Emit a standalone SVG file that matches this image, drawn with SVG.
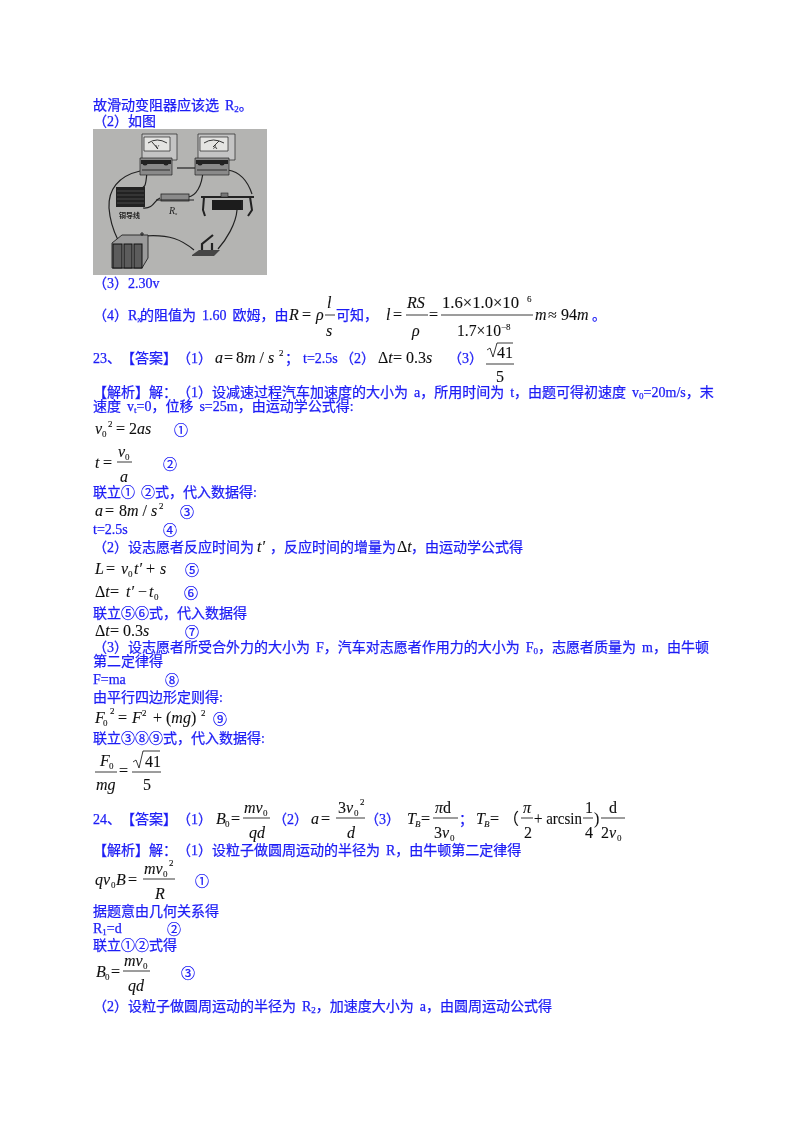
<svg xmlns="http://www.w3.org/2000/svg" width="800" height="1132" viewBox="0 0 800 1132">
<style>
text{font-family:"Liberation Serif","Noto Sans CJK SC",serif;font-size:14px;fill:#1c1cf5;stroke:#1c1cf5;stroke-width:.25;white-space:pre;text-spacing-trim:space-all;word-spacing:2.5px}
.m{fill:#111;stroke:#111;stroke-width:.1;font-size:16px;word-spacing:0}
.i{font-style:italic}
.s{font-size:9px}
.l{stroke:#222;stroke-width:.9;fill:none}
.w{stroke:#222;stroke-width:1.2;fill:none}
.d{fill:#222}
.g{fill:#8a8a8a;stroke:#222;stroke-width:.7}
.f{fill:#c4c4c4;stroke:#222;stroke-width:.7}
.p{fill:#222;stroke:none;word-spacing:0}
</style>
<defs><filter id="soft" x="0" y="0" width="100%" height="100%"><feGaussianBlur stdDeviation="0.35"/></filter></defs>
<rect width="800" height="1132" fill="#fff"/>
<g filter="url(#soft)">
<text x="93" y="110">故滑动变阻器应该选 R<tspan class="s" dy="2">2</tspan><tspan dy="-2">。</tspan></text>
<text x="93" y="126">（2）如图</text>
<g id="photo">
<rect x="93" y="129" width="174" height="146" fill="#b4b4b2"/>
<g id="wires">
<path class="w" d="M140 171C118 176 108 190 109 208C110 222 114 232 118 240"/>
<path class="w" d="M147 171C146 184 146 190 137 188"/>
<path class="w" d="M177 168L196 168"/>
<path class="w" d="M203 171C202 186 196 196 188 197"/>
<path class="w" d="M143 208C154 209 154 200 160 198"/>
<path class="w" d="M228 170C240 172 248 182 252 194"/>
<path class="w" d="M237 210C236 224 226 240 218 249"/>
<path class="w" d="M144 236C170 234 182 240 194 250"/>
</g>
<g id="voltmeter">
<path class="f" d="M142 134H177V160H142Z"/>
<path fill="#e4e4e2" stroke="#222" stroke-width=".7" d="M144 137H170V151H144Z"/>
<path class="l" d="M148 143Q157 137 167 143M152 142L158 149"/>
<path class="g" d="M140 158H172V175H140Z"/>
<path class="d" d="M141 160H171V164H141Z"/>
<circle class="d" cx="145" cy="163" r="2.5"/><circle class="d" cx="166" cy="163" r="2.5"/>
<path class="l" d="M142 170H170"/>
<text class="p" x="155" y="149" style="font-size:6px">V</text>
</g>
<g id="ammeter">
<path class="f" d="M198 134H235V160H198Z"/>
<path fill="#e4e4e2" stroke="#222" stroke-width=".7" d="M200 137H228V151H200Z"/>
<path class="l" d="M204 143Q213 137 224 143M213 147L219 141"/>
<path class="g" d="M195 158H229V175H195Z"/>
<path class="d" d="M196 160H228V164H196Z"/>
<circle class="d" cx="200" cy="163" r="2.5"/><circle class="d" cx="222" cy="163" r="2.5"/>
<path class="l" d="M197 170H227"/>
<text class="p" x="213" y="149" style="font-size:6px">A</text>
</g>
<g id="coil">
<rect x="116" y="187" width="29" height="20" fill="#222"/>
<path stroke="#777" stroke-width=".5" d="M117 191H144M117 195H144M117 199H144M117 203H144"/>
<text class="p" x="119" y="218" style="font-size:7px;font-weight:bold">铜导线</text>
</g>
<g id="resistor">
<rect x="161" y="194" width="28" height="7" fill="#8a8a8a" stroke="#222" stroke-width=".8"/>
<path class="w" d="M156 200H194"/>
<text class="p" x="169" y="214" style="font-size:10px;font-style:italic">R<tspan font-size="5" dy="1">x</tspan></text>
</g>
<g id="rheostat">
<rect x="212" y="200" width="29" height="10" fill="#1c1c1c"/>
<path stroke="#222" stroke-width="2.2" fill="none" d="M201 197H254"/>
<path stroke="#222" stroke-width="2" fill="none" d="M204 197L203 210L205 216M250 197L252 210L248 216M242 200V210"/>
<rect x="221" y="193" width="7" height="4" fill="#777" stroke="#222" stroke-width=".6"/>
</g>
<g id="battery">
<path fill="#9a9a9a" stroke="#222" stroke-width=".9" d="M112 243L122 235H148V258L142 268H112Z"/>
<rect x="113" y="244" width="9" height="24" fill="#5c5c5c" stroke="#111"/>
<rect x="124" y="244" width="8" height="24" fill="#5c5c5c" stroke="#111"/>
<rect x="134" y="244" width="8" height="24" fill="#5c5c5c" stroke="#111"/>
<path stroke="#222" d="M142 232V236M140 234H144"/>
</g>
<g id="switch">
<path fill="#444" d="M192 255L199 250H220L214 256H192Z"/>
<path stroke="#222" stroke-width="2.2" fill="none" d="M202 250V244L213 235M212 250V243"/>
</g>
</g>
<text x="93" y="288">（3）2.30v</text>

<text x="93" y="320">（4）R<tspan class="s" dy="2">x</tspan><tspan x="140" dy="-2">的阻值为 1.60 欧姆，由</tspan></text>
<text class="m i" x="289" y="320">R</text><text class="m" x="302" y="320">=</text><text class="m i" x="316" y="320">ρ</text>
<text class="m i" x="327" y="308">l</text><path class="l" d="M325 315H335"/><text class="m i" x="326" y="336">s</text>
<text x="336" y="320">可知，</text>
<text class="m i" x="386" y="320">l</text><text class="m" x="393" y="320">=</text>
<text class="m i" x="407" y="308">RS</text><path class="l" d="M406 315H428"/><text class="m i" x="412" y="336">ρ</text>
<text class="m" x="429" y="320">=</text>
<text class="m" x="442" y="308" textLength="77" lengthAdjust="spacingAndGlyphs">1.6×1.0×10</text><text class="m s" x="527" y="302">6</text>
<path class="l" d="M441 315H533"/>
<text class="m" x="457" y="336" textLength="44" lengthAdjust="spacingAndGlyphs">1.7×10</text><text class="m s" x="501" y="330">−8</text>
<text class="m i" x="535" y="320">m</text><text class="m" x="548" y="320">≈</text><text class="m" x="561" y="320">94<tspan class="i">m</tspan></text>
<text x="592" y="320">。</text>

<text x="93" y="363">23、【答案】（1）</text>
<text class="m i" x="215" y="363">a</text><text class="m" x="224" y="363">=</text><text class="m" x="236" y="363">8<tspan class="i">m</tspan> / <tspan class="i">s</tspan></text><text class="m s" x="279" y="356">2</text>
<text x="285" y="363">；</text><text x="303" y="363">t=2.5s</text><text x="340" y="363">（2）</text>
<text class="m" x="378" y="363">Δ<tspan class="i">t</tspan></text><text class="m" x="393" y="363">= 0.3<tspan class="i">s</tspan></text>
<text x="448" y="363">（3）</text>
<path class="l" d="M487 350L490 348L493 357L497 343H513"/>
<text class="m" x="497" y="358">41</text><path class="l" d="M486 364H514"/><text class="m" x="496" y="382">5</text>

<text x="93" y="397">【解析】解：（1）设减速过程汽车加速度的大小为 a，所用时间为 t，由题可得初速度 v<tspan class="s" dy="2">0</tspan><tspan dy="-2">=20m/s，末</tspan></text>
<text x="93" y="411">速度 v<tspan class="s" dy="2">t</tspan><tspan dy="-2">=0，位移 s=25m，由运动学公式得:</tspan></text>

<text class="m i" x="95" y="434">v</text><text class="m s" x="102" y="437">0</text><text class="m s" x="108" y="427">2</text><text class="m" x="116" y="434">= 2<tspan class="i">as</tspan></text><text x="174" y="435">①</text>
<text class="m i" x="95" y="468">t</text><text class="m" x="103" y="468">=</text><text class="m i" x="118" y="457">v</text><text class="m s" x="125" y="460">0</text><path class="l" d="M117 462H132"/><text class="m i" x="120" y="482">a</text><text x="163" y="469">②</text>
<text x="93" y="497">联立① ②式，代入数据得:</text>
<text class="m i" x="95" y="516">a</text><text class="m" x="105" y="516">=</text><text class="m" x="119" y="516">8<tspan class="i">m</tspan> / <tspan class="i">s</tspan></text><text class="m s" x="159" y="509">2</text><text x="180" y="517">③</text>
<text x="93" y="534">t=2.5s</text><text x="163" y="535">④</text>
<text x="93" y="552">（2）设志愿者反应时间为</text><text class="m i" x="257" y="552">t′</text><text x="270" y="552">，反应时间的增量为</text><text class="m" x="397" y="552">Δ<tspan class="i">t</tspan></text><text x="411" y="552">，由运动学公式得</text>
<text class="m i" x="95" y="574">L</text><text class="m" x="106" y="574">=</text><text class="m i" x="121" y="574">v</text><text class="m s" x="128" y="577">0</text><text class="m i" x="134" y="574">t′</text><text class="m" x="146" y="574">+</text><text class="m i" x="160" y="574">s</text><text x="185" y="575">⑤</text>
<text class="m" x="95" y="597">Δ<tspan class="i">t</tspan></text><text class="m" x="110" y="597">=</text><text class="m i" x="126" y="597">t′</text><text class="m" x="138" y="597">−</text><text class="m i" x="149" y="597">t</text><text class="m s" x="154" y="600">0</text><text x="184" y="598">⑥</text>
<text x="93" y="618">联立⑤⑥式，代入数据得</text>
<text class="m" x="95" y="636">Δ<tspan class="i">t</tspan></text><text class="m" x="110" y="636">= 0.3<tspan class="i">s</tspan></text><text x="185" y="637">⑦</text>
<text x="93" y="652">（3）设志愿者所受合外力的大小为 F，汽车对志愿者作用力的大小为 F<tspan class="s" dy="2">0</tspan><tspan dy="-2">，志愿者质量为 m，由牛顿</tspan></text>
<text x="93" y="666">第二定律得</text>
<text x="93" y="684">F=ma</text><text x="165" y="685">⑧</text>
<text x="93" y="702">由平行四边形定则得:</text>
<text class="m i" x="95" y="723">F</text><text class="m s" x="103" y="726">0</text><text class="m s" x="110" y="714">2</text><text class="m" x="118" y="723">=</text><text class="m i" x="132" y="723">F</text><text class="m s" x="142" y="716">2</text><text class="m" x="153" y="723">+ (<tspan class="i">mg</tspan>)</text><text class="m s" x="201" y="716">2</text><text x="213" y="724">⑨</text>
<text x="93" y="743">联立③⑧⑨式，代入数据得:</text>
<text class="m i" x="100" y="766">F</text><text class="m s" x="109" y="769">0</text><path class="l" d="M95 772H117"/><text class="m i" x="96" y="790">mg</text>
<text class="m" x="119" y="776">=</text>
<path class="l" d="M133 762L136 760L139 768L143 751H160"/><text class="m" x="145" y="767">41</text><path class="l" d="M132 772H161"/><text class="m" x="143" y="790">5</text>

<text x="93" y="824">24、【答案】（1）</text>
<text class="m i" x="216" y="824">B</text><text class="m s" x="225" y="827">0</text><text class="m" x="231" y="824">=</text>
<text class="m i" x="244" y="813">mv</text><text class="m s" x="263" y="816">0</text><path class="l" d="M243 818H270"/><text class="m i" x="249" y="838">qd</text>
<text x="273" y="824">（2）</text>
<text class="m i" x="311" y="824">a</text><text class="m" x="321" y="824">=</text>
<text class="m" x="338" y="813">3<tspan class="i">v</tspan></text><text class="m s" x="354" y="816">0</text><text class="m s" x="360" y="805">2</text><path class="l" d="M336 818H365"/><text class="m i" x="347" y="838">d</text>
<text x="365" y="824">（3）</text>
<text class="m i" x="407" y="824">T</text><text class="m s i" x="415" y="827">B</text><text class="m" x="421" y="824">=</text>
<text class="m" x="435" y="813"><tspan class="i">π</tspan>d</text><path class="l" d="M433 818H458"/><text class="m" x="434" y="838">3<tspan class="i">v</tspan></text><text class="m s" x="450" y="841">0</text>
<text x="459" y="824">；</text>
<text class="m i" x="476" y="824">T</text><text class="m s i" x="484" y="827">B</text><text class="m" x="490" y="824">=</text>
<text class="m" x="503" y="824">（</text>
<text class="m i" x="523" y="813">π</text><path class="l" d="M521 818H533"/><text class="m" x="524" y="838">2</text>
<text class="m" x="534" y="824" textLength="48" lengthAdjust="spacingAndGlyphs">+ arcsin</text>
<text class="m" x="585" y="813">1</text><path class="l" d="M583 818H593"/><text class="m" x="585" y="838">4</text>
<text class="m" x="594" y="824">)</text>
<text class="m" x="609" y="813">d</text><path class="l" d="M601 818H625"/><text class="m" x="601" y="838">2<tspan class="i">v</tspan></text><text class="m s" x="617" y="841">0</text>

<text x="93" y="855">【解析】解：（1）设粒子做圆周运动的半径为 R，由牛顿第二定律得</text>
<text class="m i" x="95" y="885">qv</text><text class="m s" x="111" y="888">0</text><text class="m i" x="116" y="885">B</text><text class="m" x="128" y="885">=</text>
<text class="m i" x="144" y="874">mv</text><text class="m s" x="163" y="877">0</text><text class="m s" x="169" y="866">2</text><path class="l" d="M143 879H175"/><text class="m i" x="155" y="899">R</text>
<text x="195" y="886">①</text>
<text x="93" y="916">据题意由几何关系得</text>
<text x="93" y="933">R<tspan class="s" dy="2">1</tspan><tspan dy="-2">=d</tspan></text><text x="167" y="934">②</text>
<text x="93" y="950">联立①②式得</text>
<text class="m i" x="96" y="977">B</text><text class="m s" x="105" y="980">0</text><text class="m" x="111" y="977">=</text>
<text class="m i" x="124" y="966">mv</text><text class="m s" x="143" y="969">0</text><path class="l" d="M123 971H150"/><text class="m i" x="128" y="991">qd</text>
<text x="181" y="978">③</text>
<text x="93" y="1011">（2）设粒子做圆周运动的半径为 R<tspan class="s" dy="2">2</tspan><tspan dy="-2">，加速度大小为 a，由圆周运动公式得</tspan></text>
</g>
</svg>
